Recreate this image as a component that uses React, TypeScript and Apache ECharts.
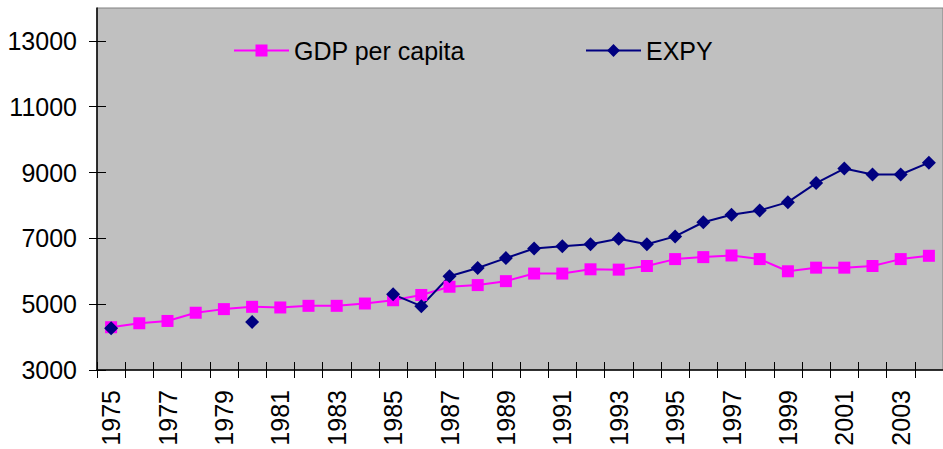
import React, { useEffect, useRef } from "react";
import * as echarts from "echarts";

const years: string[] = [
  "1975", "1976", "1977", "1978", "1979", "1980", "1981", "1982", "1983", "1984",
  "1985", "1986", "1987", "1988", "1989", "1990", "1991", "1992", "1993", "1994",
  "1995", "1996", "1997", "1998", "1999", "2000", "2001", "2002", "2003", "2004",
];

const gdpPerCapita: number[] = [
  4300, 4420, 4490, 4740, 4850, 4920, 4900, 4950, 4950, 5020,
  5120, 5280, 5530, 5580, 5700, 5930, 5930, 6060, 6050, 6160,
  6370, 6430, 6480, 6370, 6000, 6110, 6110, 6160, 6370, 6470,
];

const expy: (number | null)[] = [
  4270, null, null, null, null, 4460, null, null, null, null,
  5300, 4940, 5850, 6100, 6400, 6690, 6760, 6820, 6990, 6820,
  7060, 7490, 7720, 7850, 8100, 8680, 9120, 8940, 8940, 9300,
];

const yTickValues: number[] = [3000, 5000, 7000, 9000, 11000, 13000];

const FONT = "'Liberation Sans', Arial, sans-serif";

export default function App() {
  const ref = useRef<HTMLDivElement>(null);

  useEffect(() => {
    if (!ref.current) return;
    const chart = echarts.init(ref.current, undefined, { renderer: "svg" });
    const legendText = { fontSize: 25, color: "#000", fontFamily: FONT };
    chart.setOption({
      animation: false,
      textStyle: { fontFamily: FONT },
      grid: {
        left: 97,
        top: 8,
        right: -9,
        bottom: 79,
        show: true,
        backgroundColor: "#C0C0C0",
        borderColor: "#808080",
        borderWidth: 1,
      },
      legend: [
        {
          data: ["GDP per capita"],
          left: 233,
          top: 38,
          padding: 0,
          itemWidth: 55,
          itemHeight: 15,
          textStyle: legendText,
        },
        {
          data: ["EXPY"],
          left: 585,
          top: 38,
          padding: 0,
          itemWidth: 55,
          itemHeight: 16,
          textStyle: legendText,
        },
      ],
      xAxis: [
        {
          type: "category",
          data: years,
          boundaryGap: true,
          axisLine: { show: true, lineStyle: { color: "#000", width: 1.5 } },
          axisTick: { show: true, interval: 0, length: 8, lineStyle: { color: "#000", width: 1 } },
          axisLabel: {
            interval: 1,
            rotate: 90,
            margin: 20,
            fontSize: 25,
            color: "#000",
            fontFamily: FONT,
          },
          splitLine: { show: false },
        },
        {
          type: "category",
          data: years,
          position: "bottom",
          boundaryGap: true,
          axisLine: { show: false },
          axisTick: { show: true, inside: true, interval: 0, length: 8, lineStyle: { color: "#000", width: 1 } },
          axisLabel: { show: false },
          splitLine: { show: false },
        },
      ],
      yAxis: [
        {
          type: "value",
          min: 3000,
          max: 14000,
          position: "left",
          axisLine: { show: true, lineStyle: { color: "#000", width: 1.5 } },
          axisTick: { show: true, length: 8, customValues: yTickValues, lineStyle: { color: "#000", width: 1 } },
          axisLabel: {
            customValues: yTickValues,
            formatter: (v: number) => String(v),
            margin: 20,
            fontSize: 25,
            color: "#000",
            fontFamily: FONT,
          },
          splitLine: { show: false },
        },
        {
          type: "value",
          min: 3000,
          max: 14000,
          position: "left",
          axisLine: { show: false },
          axisTick: { show: true, inside: true, length: 9, customValues: yTickValues, lineStyle: { color: "#000", width: 1 } },
          axisLabel: { show: false, customValues: yTickValues },
          splitLine: { show: false },
        },
      ],
      series: [
        {
          name: "GDP per capita",
          type: "line",
          data: gdpPerCapita,
          xAxisIndex: 0,
          yAxisIndex: 0,
          symbol: "rect",
          symbolSize: 12,
          showAllSymbol: true,
          color: "#FF00FF",
          itemStyle: { color: "#FF00FF" },
          lineStyle: { color: "#FF00FF", width: 2 },
        },
        {
          name: "EXPY",
          type: "line",
          data: expy,
          xAxisIndex: 0,
          yAxisIndex: 0,
          symbol: "diamond",
          symbolSize: 14,
          showAllSymbol: true,
          connectNulls: false,
          color: "#000080",
          itemStyle: { color: "#000080" },
          lineStyle: { color: "#000080", width: 2 },
        },
      ],
    });
    return () => chart.dispose();
  }, []);

  return (
    <div
      ref={ref}
      style={{ position: "fixed", left: 0, top: 0, width: 943, height: 449, background: "#fff" }}
    />
  );
}
